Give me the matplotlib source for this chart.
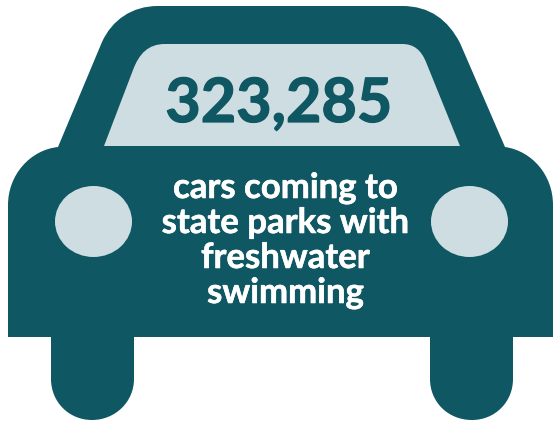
import matplotlib
matplotlib.use('Agg')
import matplotlib.pyplot as plt
import matplotlib.patheffects as pe
from matplotlib.path import Path
from matplotlib.patches import PathPatch, Ellipse

# texto do grafico
valor = '323,285'
legenda = ['cars coming to', 'state parks with', 'freshwater', 'swimming']

TEAL = '#0f5763'
CLARO = '#cdddE1'

M, L, C = Path.MOVETO, Path.LINETO, Path.CURVE4

# contorno do carro, em pixels da imagem
carro = [
    (M, (8, 337)), (L, (8, 205)),
    (C, (8, 175)), (C, (30, 150)), (C, (58, 147)),
    (L, (102, 42)),
    (C, (112, 20)), (C, (132, 6)), (C, (158, 6)),
    (L, (402, 6)),
    (C, (430, 6)), (C, (448, 20)), (C, (460, 43)),
    (L, (505, 147)),
    (C, (532, 151)), (C, (553, 175)), (C, (553, 205)),
    (L, (553, 337)), (L, (513, 337)), (L, (513, 379)),
    (C, (513, 402)), (C, (495, 420)), (C, (472, 420)),
    (C, (448, 420)), (C, (430, 402)), (C, (430, 379)),
    (L, (430, 337)), (L, (134, 337)), (L, (134, 379)),
    (C, (134, 402)), (C, (115, 420)), (C, (92, 420)),
    (C, (69, 420)), (C, (51, 402)), (C, (51, 379)),
    (L, (51, 337)), (L, (8, 337)),
]

# para-brisa
janela = [
    (M, (104, 146)), (L, (133, 70)),
    (C, (139, 54)), (C, (148, 44)), (C, (165, 44)),
    (L, (402, 44)),
    (C, (414, 44)), (C, (421, 50)), (C, (426, 62)),
    (L, (460, 146)), (L, (104, 146)),
]

fig = plt.figure(figsize=(5.54, 4.24), dpi=100)
ax = fig.add_axes([0, 0, 1, 1])
ax.set_xlim(0, 554)
ax.set_ylim(424, 0)
ax.axis('off')

for forma, cor in [(carro, TEAL), (janela, CLARO)]:
    codigos = [p[0] for p in forma]
    pontos = [p[1] for p in forma]
    ax.add_patch(PathPatch(Path(pontos, codigos), facecolor=cor, edgecolor='none'))

# farois
ax.add_patch(Ellipse((93.5, 221.5), 77, 71, facecolor=CLARO, edgecolor='none'))
ax.add_patch(Ellipse((469.5, 221.5), 77, 71, facecolor=CLARO, edgecolor='none'))

t = ax.text(279, 122, valor, color=TEAL, fontsize=44, fontweight='bold',
            family='Lato', ha='center', va='baseline')
t.set_path_effects([pe.withStroke(linewidth=0.9, foreground=TEAL)])

for i, linha in enumerate(legenda):
    t = ax.text(285.5, 198 + i * 35, linha, color='white', fontsize=25, fontweight='bold',
                family='Lato', ha='center', va='baseline')
    t.set_path_effects([pe.withStroke(linewidth=0.4, foreground='white')])

fig.savefig('out.png', dpi=100)
